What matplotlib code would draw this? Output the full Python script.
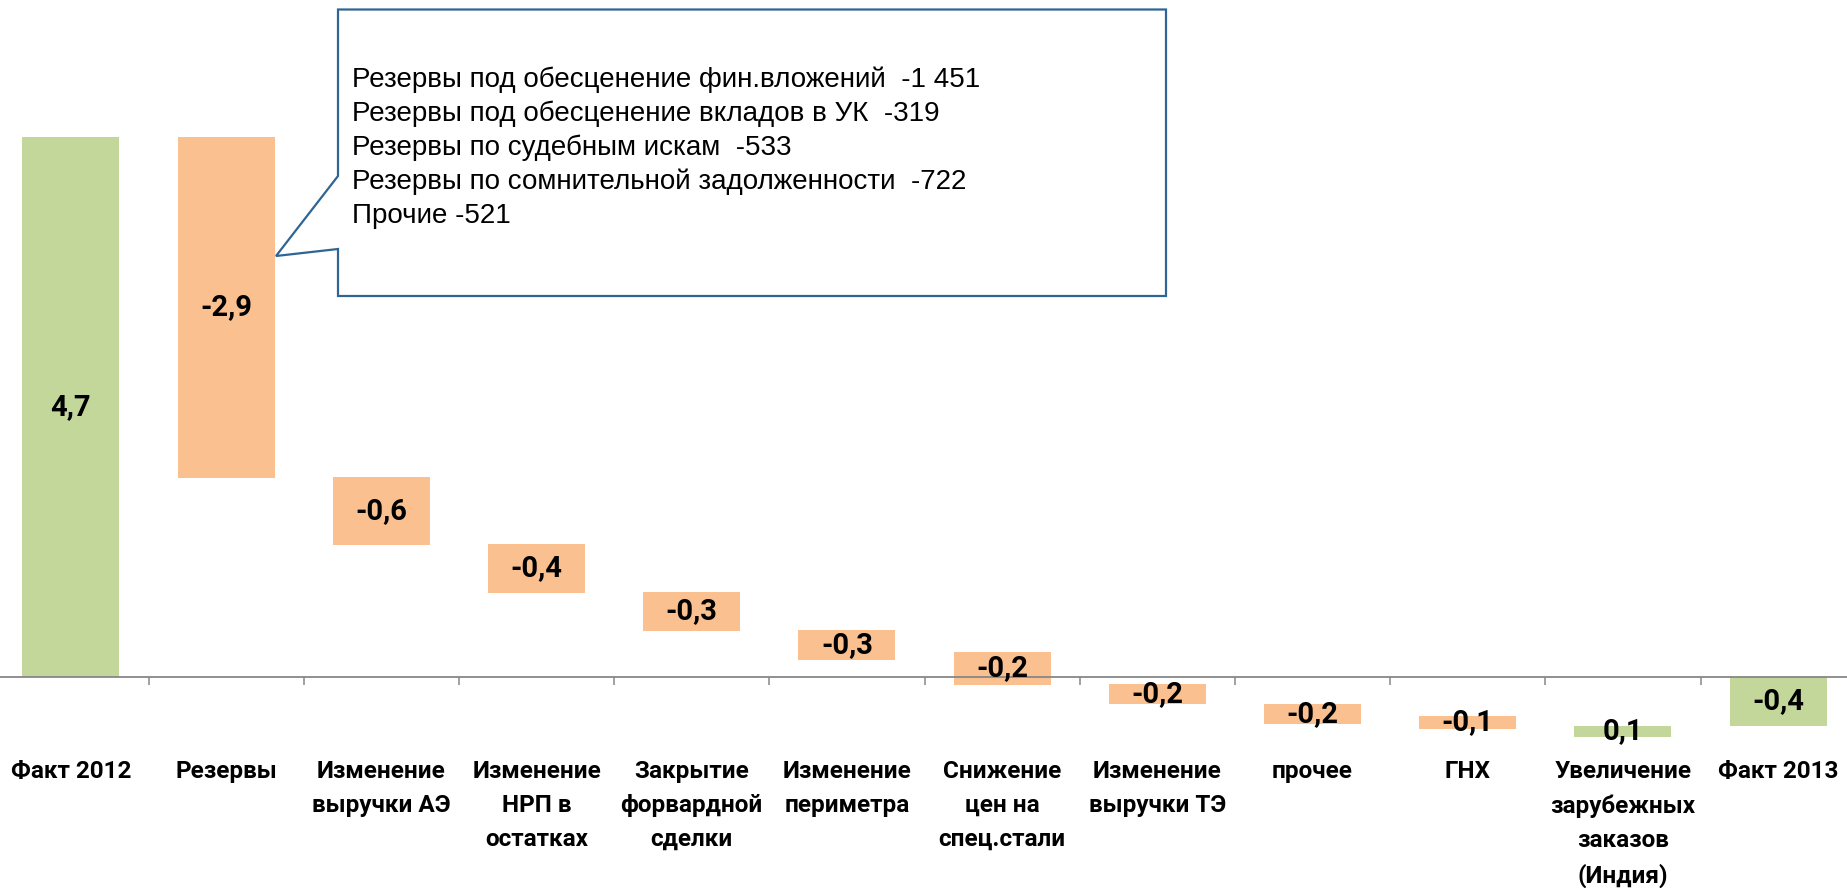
import matplotlib
matplotlib.use("Agg")
import matplotlib.pyplot as plt
from matplotlib.patches import Polygon

W, H = 1847, 888

categories = ["Факт 2012", "Резервы", "Изменение\nвыручки АЭ", "Изменение\nНРП в\nостатках",
              "Закрытие\nфорвардной\nсделки", "Изменение\nпериметра", "Снижение\nцен на\nспец.стали",
              "Изменение\nвыручки ТЭ", "прочее", "ГНХ", "Увеличение\nзарубежных\nзаказов\n(Индия)",
              "Факт 2013"]
values = [4.7, -2.9, -0.6, -0.4, -0.3, -0.3, -0.2, -0.2, -0.2, -0.1, 0.1, -0.4]
# bar ends (млрд)
bar_low = [0.0, 1.735, 1.151, 0.734, 0.403, 0.148, -0.067, -0.232, -0.406, -0.453, -0.522, -0.424]
bar_high = [4.70, 4.70, 1.741, 1.158, 0.740, 0.409, 0.218, -0.061, -0.235, -0.339, -0.426, 0.0]
is_green = [True, False, False, False, False, False, False, False, False, False, True, True]

callout_lines = ["Резервы под обесценение фин.вложений  -1 451",
                 "Резервы под обесценение вкладов в УК  -319",
                 "Резервы по судебным искам  -533",
                 "Резервы по сомнительной задолженности  -722",
                 "Прочие -521"]

GREEN = "#C4D79B"
ORANGE = "#FAC090"
AXIS = "#878787"
BLUE = "#2F6594"

fig = plt.figure(figsize=(W / 100, H / 100), dpi=100)
ax = fig.add_axes([-6.7 / W, 0, 1862.4 / W, 1])

x = list(range(len(categories)))
heights = [h - l for l, h in zip(bar_low, bar_high)]
colors = [GREEN if g else ORANGE for g in is_green]
ax.bar(x, heights, bottom=bar_low, width=0.625, color=colors, zorder=2)

for i, v in enumerate(values):
    ymid = (bar_low[i] + bar_high[i]) / 2
    ax.text(i, ymid, f"{v:.1f}".replace(".", ","), ha="center", va="center",
            fontsize=21, fontweight="bold", family="Roboto", color="black", zorder=4)

ax.set_xlim(-0.5, len(categories) - 0.5)
ax.set_ylim(-211 / 114.89, 677 / 114.89)

for s in ["left", "top", "right"]:
    ax.spines[s].set_visible(False)
ax.spines["bottom"].set_position(("data", 0))
ax.spines["bottom"].set_color(AXIS)
ax.spines["bottom"].set_linewidth(1.3)
ax.spines["bottom"].set_zorder(3)
ax.set_yticks([])

ax.set_xticks(x)
ax.set_xticklabels(categories, fontsize=17.5, fontweight="bold", family="Roboto",
                   va="top", linespacing=1.6)
ax.set_xticks([i + 0.5 for i in x[:-1]], minor=True)
ax.tick_params(axis="x", which="major", length=0, pad=60)
ax.tick_params(axis="x", which="minor", length=5.8, width=1.1, color=AXIS, direction="out")

# callout box
def fpt(px, py):
    return (px / W, 1 - py / H)

pts = [(338, 9.5), (1166, 9.5), (1166, 296), (338, 296), (338, 249), (276, 256), (338, 176)]
poly = Polygon([fpt(*p) for p in pts], closed=True, facecolor="white", edgecolor=BLUE,
               linewidth=1.6, transform=fig.transFigure, zorder=5)
fig.patches.append(poly)

line_y = [80, 114, 148, 182, 216]
for t, yy in zip(callout_lines, line_y):
    fig.text(352 / W, 1 - yy / H, t, ha="left", va="center", fontsize=20,
             family="Liberation Sans", color="black", zorder=6)

fig.savefig("out.png", dpi=100, facecolor="white")
